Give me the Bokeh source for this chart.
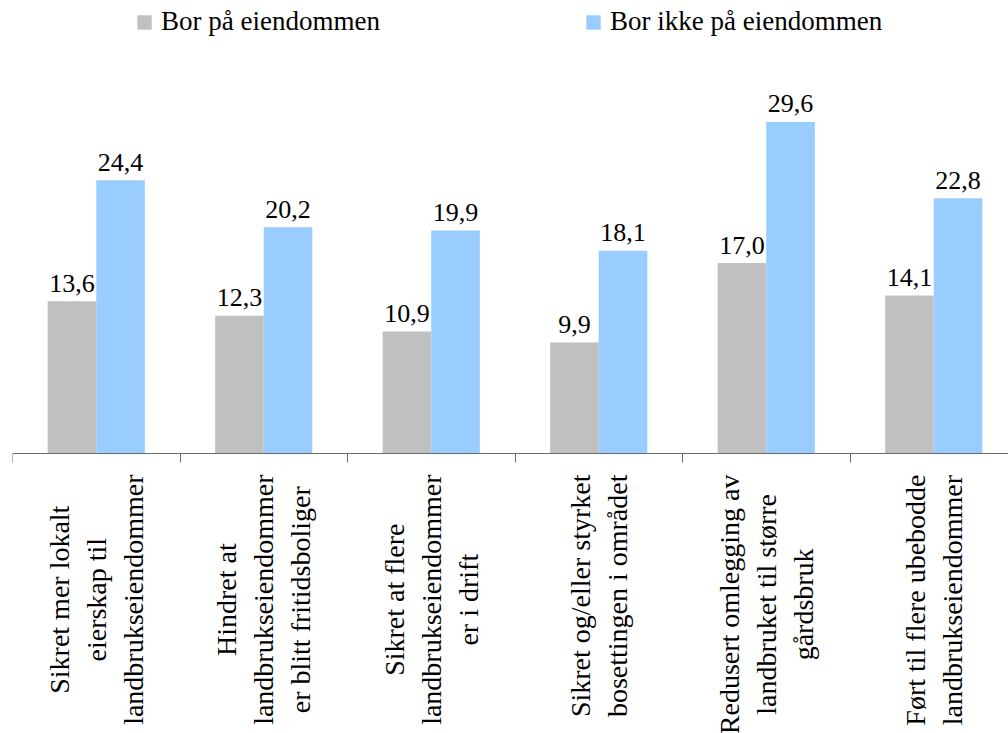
import math

from bokeh.core.properties import value
from bokeh.embed import file_html
from bokeh.models import (ColumnDataSource, FixedTicker, Legend, LegendItem,
                          LinearAxis, Range1d)
from bokeh.plotting import figure
from bokeh.resources import INLINE

# Category labels (line breaks as in the printed chart)
categories = [
    "Sikret mer lokalt\neierskap til\nlandbrukseiendommer",
    "Hindret at\nlandbrukseiendommer\ner blitt fritidsboliger",
    "Sikret at flere\nlandbrukseiendommer\ner i drift",
    "Sikret og/eller styrket\nbosettingen i området",
    "Redusert omlegging av\nlandbruket til større\ngårdsbruk",
    "Ført til flere ubebodde\nlandbrukseiendommer",
]
series_names = ["Bor på eiendommen", "Bor ikke på eiendommen"]
bor_paa = [13.6, 12.3, 10.9, 9.9, 17.0, 14.1]
bor_ikke_paa = [24.4, 20.2, 19.9, 18.1, 29.6, 22.8]

GRAY = "#C0C0C0"
BLUE = "#99CCFF"
FONT = "Liberation Serif"

W, H = 1008, 733
LEFT = 12
BASE_Y = 453          # pixel row of the zero line
PX_PER_UNIT = 11.2
CAT_PX = 167.5
BAR_W = 0.29

n = len(categories)
x_end = (W - LEFT) / CAT_PX
y_top = BASE_Y / PX_PER_UNIT
y_bottom = -(H - BASE_Y) / PX_PER_UNIT

p = figure(
    width=W, height=H,
    x_range=Range1d(0, x_end), y_range=Range1d(y_bottom, y_top),
    x_axis_type=None, y_axis_type=None,
    output_backend="svg", toolbar_location=None,
    min_border_left=LEFT, min_border_right=0,
    min_border_top=0, min_border_bottom=0,
    outline_line_color=None, background_fill_color="white",
    border_fill_color="white",
)

centers = [i + 0.5 for i in range(n)]


def fmt(v):
    return f"{v:.1f}".replace(".", ",")


src_a = ColumnDataSource(dict(x=[c - BAR_W / 2 for c in centers], top=bor_paa,
                              label=[fmt(v) for v in bor_paa]))
src_b = ColumnDataSource(dict(x=[c + BAR_W / 2 for c in centers], top=bor_ikke_paa,
                              label=[fmt(v) for v in bor_ikke_paa]))

r_a = p.vbar(x="x", top="top", bottom=0, width=BAR_W, source=src_a,
             fill_color=GRAY, line_color=None)
r_b = p.vbar(x="x", top="top", bottom=0, width=BAR_W, source=src_b,
             fill_color=BLUE, line_color=None)

# Value labels above each bar
for src in (src_a, src_b):
    p.text(x="x", y="top", text="label", source=src, y_offset=-18,
           text_align="center", text_baseline="alphabetic",
           text_font=value(FONT), text_font_size="26px", text_color="black")

# Zero line with ticks on the category boundaries
xaxis = LinearAxis(fixed_location=0,
                   ticker=FixedTicker(ticks=[], minor_ticks=list(range(n + 1))))
xaxis.axis_line_color = "#6b6b6b"
xaxis.axis_line_width = 1
xaxis.minor_tick_line_color = "#6b6b6b"
xaxis.minor_tick_in = 0
xaxis.minor_tick_out = 9
xaxis.major_tick_line_color = None
p.add_layout(xaxis, "below")

# Rotated category labels: block end just under the axis, lines centred
cat_src = ColumnDataSource(dict(x=centers, y=[0] * n, text=categories))
p.text(x="x", y="y", text="text", source=cat_src, angle=math.pi / 2,
       y_offset=21, anchor="center_right", text_align="center",
       text_baseline="middle", text_line_height=1.2,
       text_font=value(FONT), text_font_size="28px", text_color="black")

# Two-entry legend along the top
for name, rend, loc in ((series_names[0], r_a, (123, H - 37)),
                        (series_names[1], r_b, (572, H - 37))):
    leg = Legend(items=[LegendItem(label=name, renderers=[rend])],
                 location=loc, orientation="horizontal",
                 glyph_width=18, glyph_height=18, label_standoff=8,
                 padding=0, margin=0, border_line_color=None,
                 background_fill_alpha=0, label_text_font=FONT,
                 label_text_font_size="27px", label_text_color="black")
    p.add_layout(leg, "center")

open("out.html", "w").write(file_html(p, INLINE))
